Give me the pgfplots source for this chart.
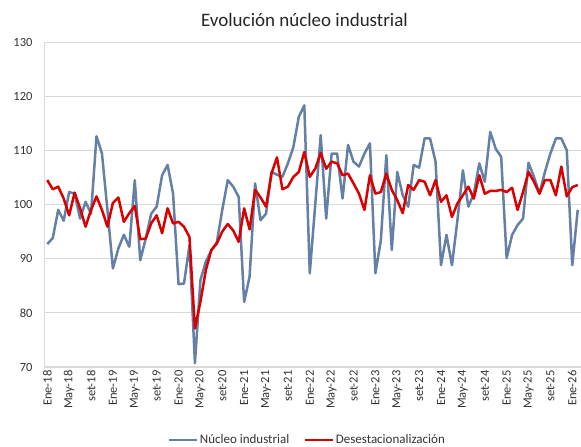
\documentclass[border=0pt]{standalone}
\usepackage{pgfplots}
\pgfplotsset{compat=1.18}
\usepackage{fontspec}
\setmainfont{Carlito}
\definecolor{nucleo}{RGB}{100,128,166}
\definecolor{desest}{RGB}{218,0,0}
\definecolor{gridc}{RGB}{217,217,217}
\pgfplotstableread{
i v
0 92.7
1 93.8
2 99.0
3 97.0
4 102.3
5 102.0
6 97.4
7 100.5
8 98.3
9 112.6
10 109.4
11 99.0
12 88.2
13 91.9
14 94.4
15 92.2
16 104.5
17 89.7
18 93.7
19 98.3
20 99.6
21 105.4
22 107.3
23 102.0
24 85.3
25 85.4
26 92.5
27 70.7
28 86.0
29 89.5
30 91.5
31 93.0
32 99.0
33 104.5
34 103.3
35 101.4
36 82.0
37 86.7
38 103.9
39 97.1
40 98.3
41 106.0
42 105.5
43 105.1
44 107.6
45 110.6
46 116.2
47 118.3
48 87.3
49 100.0
50 112.8
51 97.4
52 109.4
53 109.4
54 101.1
55 111.0
56 107.9
57 107.0
58 109.4
59 111.3
60 87.3
61 93.4
62 109.1
63 91.6
64 106.0
65 101.7
66 99.6
67 107.3
68 106.8
69 112.2
70 112.2
71 107.9
72 88.8
73 94.4
74 88.8
75 97.1
76 106.3
77 99.6
78 102.0
79 107.6
80 104.2
81 113.4
82 110.3
83 108.8
84 90.1
85 94.4
86 96.2
87 97.4
88 107.7
89 105.1
90 102.0
91 106.0
92 109.4
93 112.2
94 112.2
95 110.0
96 88.8
97 99.0
}\nucleo
\pgfplotstableread{
i v
0 104.5
1 102.8
2 103.3
3 101.1
4 98.0
5 102.2
6 99.3
7 95.9
8 99.0
9 101.5
10 99.0
11 95.9
12 100.3
13 101.3
14 96.8
15 98.4
16 99.7
17 93.6
18 93.7
19 96.5
20 98.0
21 94.7
22 99.3
23 96.5
24 96.8
25 95.9
26 94.0
27 77.1
28 82.0
29 87.9
30 91.6
31 92.8
32 95.0
33 96.4
34 95.2
35 93.1
36 99.3
37 95.4
38 102.7
39 101.3
40 99.6
41 105.7
42 108.7
43 102.8
44 103.3
45 105.1
46 106.0
47 109.7
48 105.1
49 106.6
50 109.5
51 106.6
52 107.9
53 107.6
54 105.4
55 105.7
56 103.9
57 102.0
58 99.0
59 105.4
60 102.0
61 102.3
62 105.7
63 102.7
64 100.8
65 98.4
66 103.6
67 102.7
68 104.5
69 104.2
70 101.7
71 104.5
72 100.5
73 101.7
74 97.7
75 100.2
76 101.7
77 103.3
78 101.1
79 105.4
80 102.0
81 102.5
82 102.5
83 102.7
84 102.3
85 103.1
86 99.0
87 102.3
88 106.0
89 104.2
90 102.0
91 104.5
92 104.5
93 101.7
94 107.0
95 101.5
96 103.2
97 103.6
}\desest
\begin{document}
\begin{tikzpicture}
\useasboundingbox (0,0) rectangle (581pt,447pt);
\begin{axis}[
  at={(44pt,80pt)}, anchor=south west,
  scale only axis, width=537pt, height=325pt,
  xmin=-0.6, xmax=97.6, ymin=70, ymax=130,
  ytick={70,80,...,130},
  xtick={0,4,...,96},
  xticklabels={Ene-18,May-18,set-18,Ene-19,May-19,set-19,Ene-20,May-20,set-20,Ene-21,May-21,set-21,Ene-22,May-22,set-22,Ene-23,May-23,set-23,Ene-24,May-24,set-24,Ene-25,May-25,set-25,Ene-26},
  axis lines*=left,
  axis line style={draw=gridc, line width=1pt},
  ymajorgrids, grid style={gridc, line width=0.8pt},
  major tick length=0pt,
  tick label style={font=\fontsize{12.5pt}{14pt}\selectfont, text=black!80},
  /pgf/number format/assume math mode=true,
  xticklabel style={rotate=90, anchor=east, xshift=0pt, yshift=0pt},
  yticklabel style={xshift=-8pt},
  clip=true,
  legend columns=2,
  legend style={at={(0.49,-0.2246)}, anchor=center, draw=none, fill=none,
    font=\fontsize{13pt}{15pt}\selectfont, text=black!80,
    /tikz/every even column/.append style={column sep=12pt}},
  legend image code/.code={\draw[#1] (0pt,0pt) -- (28pt,0pt);},
]
\addplot[nucleo, line width=2.5pt, line join=round] table[x=i,y=v] {\nucleo};
\addlegendentry{Núcleo industrial}
\addplot[desest, line width=2.5pt, line join=round] table[x=i,y=v] {\desest};
\addlegendentry{Desestacionalización}
\end{axis}
\node[font=\fontsize{19pt}{22pt}\selectfont, text=black!85] at (304.5pt,427pt) {Evolución núcleo industrial};
\end{tikzpicture}
\end{document}
